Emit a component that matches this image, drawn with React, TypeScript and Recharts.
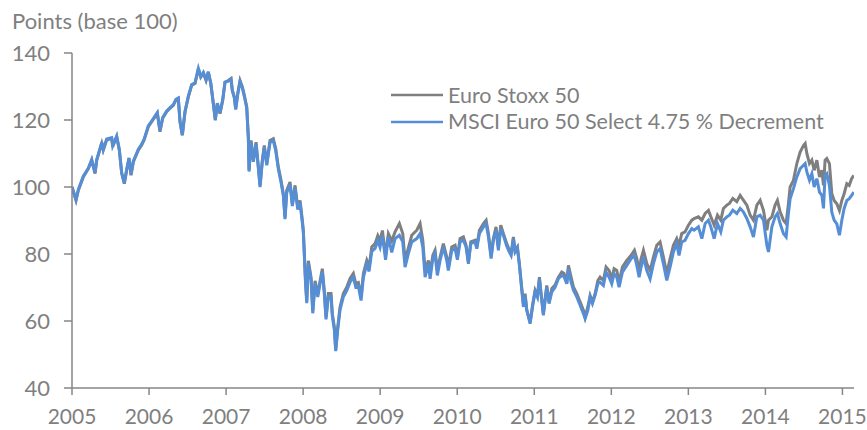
import React from "react";
import { Line, LineChart, XAxis, YAxis } from "recharts";

// decimal years
const dates = [
  2005.0, 2005.052, 2005.082, 2005.147, 2005.212, 2005.256, 2005.299, 2005.321, 2005.386, 2005.406,
  2005.45, 2005.515, 2005.528, 2005.58, 2005.614, 2005.645, 2005.679, 2005.71, 2005.74, 2005.766,
  2005.796, 2005.861, 2005.905, 2005.935, 2005.991, 2006.035, 2006.107, 2006.142, 2006.177, 2006.229,
  2006.272, 2006.315, 2006.35, 2006.38, 2006.402, 2006.432, 2006.467, 2006.51, 2006.554, 2006.597,
  2006.64, 2006.671, 2006.705, 2006.74, 2006.769, 2006.801, 2006.834, 2006.86, 2006.886, 2006.921,
  2006.956, 2006.986, 2007.029, 2007.064, 2007.081, 2007.107, 2007.125, 2007.151, 2007.181, 2007.211,
  2007.237, 2007.268, 2007.289, 2007.298, 2007.324, 2007.354, 2007.389, 2007.419, 2007.441, 2007.47,
  2007.496, 2007.528, 2007.57, 2007.613, 2007.644, 2007.678, 2007.713, 2007.743, 2007.765, 2007.787,
  2007.83, 2007.86, 2007.895, 2007.93, 2007.96, 2007.99, 2008.003, 2008.018, 2008.031, 2008.047,
  2008.068, 2008.103, 2008.125, 2008.155, 2008.19, 2008.22, 2008.249, 2008.275, 2008.297, 2008.327,
  2008.362, 2008.379, 2008.405, 2008.423, 2008.449, 2008.479, 2008.522, 2008.566, 2008.609, 2008.652,
  2008.683, 2008.717, 2008.752, 2008.782, 2008.826, 2008.856, 2008.891, 2008.934, 2008.969, 2008.998,
  2009.029, 2009.07, 2009.106, 2009.15, 2009.193, 2009.249, 2009.293, 2009.323, 2009.366, 2009.41,
  2009.475, 2009.518, 2009.553, 2009.583, 2009.626, 2009.648, 2009.683, 2009.712, 2009.742, 2009.777,
  2009.82, 2009.864, 2009.885, 2009.929, 2009.972, 2010.002, 2010.037, 2010.08, 2010.115, 2010.145,
  2010.176, 2010.232, 2010.254, 2010.288, 2010.34, 2010.375, 2010.405, 2010.44, 2010.469, 2010.504,
  2010.534, 2010.565, 2010.599, 2010.643, 2010.677, 2010.699, 2010.729, 2010.751, 2010.781, 2010.807,
  2010.838, 2010.859, 2010.881, 2010.903, 2010.946, 2010.981, 2011.011, 2011.041, 2011.067, 2011.089,
  2011.118, 2011.162, 2011.192, 2011.228, 2011.27, 2011.313, 2011.357, 2011.387, 2011.422, 2011.443,
  2011.478, 2011.508, 2011.552, 2011.595, 2011.638, 2011.66, 2011.695, 2011.725, 2011.755, 2011.79,
  2011.825, 2011.854, 2011.897, 2011.932, 2011.971, 2012.006, 2012.036, 2012.071, 2012.101, 2012.144,
  2012.201, 2012.257, 2012.3, 2012.331, 2012.361, 2012.387, 2012.417, 2012.461, 2012.504, 2012.547,
  2012.59, 2012.633, 2012.676, 2012.72, 2012.763, 2012.806, 2012.849, 2012.879, 2012.914, 2012.957,
  2013.001, 2013.045, 2013.075, 2013.13, 2013.175, 2013.218, 2013.261, 2013.292, 2013.335, 2013.378,
  2013.421, 2013.455, 2013.499, 2013.533, 2013.577, 2013.629, 2013.672, 2013.714, 2013.759, 2013.802,
  2013.845, 2013.889, 2013.932, 2013.975, 2014.019, 2014.04, 2014.084, 2014.126, 2014.156, 2014.191,
  2014.234, 2014.269, 2014.299, 2014.321, 2014.364, 2014.408, 2014.451, 2014.494, 2014.516, 2014.538,
  2014.572, 2014.603, 2014.633, 2014.668, 2014.702, 2014.733, 2014.754, 2014.775, 2014.797, 2014.831,
  2014.862, 2014.892, 2014.927, 2014.961, 2014.992, 2015.022, 2015.057, 2015.088, 2015.119, 2015.148,
];

const euroStoxx = [
  100, 96.0, 99.0, 103, 105.5, 108, 104, 108, 113, 111,
  114, 114.5, 112, 115, 111, 104, 101, 105, 108.5, 103.5,
  107.5, 111, 112.5, 114, 118, 119.5, 122, 116.5, 120.5, 122.5,
  123.5, 124.4, 126, 126.4, 119.4, 115.4, 122.4, 126.9, 130.4, 130.9,
  135.3, 132.8, 134, 131.8, 134.3, 130.9, 124.9, 119.9, 124.9, 121.9,
  125.9, 131.3, 131.8, 132.4, 128.9, 126.9, 123.4, 127.9, 131.8, 129.9,
  127.4, 123.9, 114.9, 105, 113.9, 108, 113.4, 106, 100.5, 108,
  112.4, 107, 113.9, 114.4, 111.5, 106, 102, 98, 91, 99,
  101.5, 95, 100.5, 94, 96, 90, 87, 79, 72, 66,
  78, 73, 63, 72, 68, 72, 75.6, 69, 61.2, 68.2,
  68.2, 62.2, 58.2, 51.5, 58.2, 64.2, 68.2, 70.1, 72.7, 74.2,
  71.2, 71.5, 67.2, 74.2, 78.1, 76.1, 82.1, 83.1, 85.5, 84,
  87, 79.5, 86.1, 83.9, 86.6, 89.1, 86.1, 78.1, 81.8, 85.6,
  87.1, 89.1, 84.1, 75.1, 78.1, 74.1, 79.6, 81.1, 75.1, 79,
  83.1, 79.1, 76.1, 82.1, 82.6, 79.1, 84.6, 85.1, 82.6, 77.6,
  83.6, 84.1, 82.1, 87.1, 89.1, 90.1, 86.1, 79.6, 84.6, 88.1,
  82.1, 88.6, 86.1, 83.1, 81.1, 80.1, 85.1, 81.1, 82.1, 77.1,
  69.7, 65.2, 68.2, 63.2, 59.7, 65.2, 69.2, 67.6, 73.1, 68.2,
  62.2, 70.6, 65.7, 69.7, 70.7, 73.1, 74.6, 74.2, 71.2, 76.6,
  73.1, 70.2, 68.2, 65.7, 63.2, 61.2, 64.2, 67.6, 65.7, 68.2,
  72.1, 73.1, 72.1, 76.1, 75.1, 72.6, 75.6, 75.1, 71.6, 76.1,
  78.1, 79.6, 81.1, 78.6, 75.1, 78.6, 81.1, 77.1, 75.1, 79.1,
  82.6, 83.6, 79.1, 74.2, 78.6, 82.6, 84.6, 82.6, 86.1, 86.6,
  88.6, 90.1, 90.6, 91.1, 90.1, 92.1, 93.0, 91.1, 88.6, 91.6,
  90.1, 93.6, 94.6, 95.1, 96.6, 95.6, 97.5, 96.1, 94.6, 91.6,
  90.1, 94.6, 96.0, 93.0, 87.1, 90.1, 91.1, 94.6, 96.0, 92.6,
  90.1, 89.1, 95.0, 100, 102, 107, 110.4, 112.4, 113, 110,
  107, 108, 105, 108, 103, 105, 100.5, 108, 108.5, 107,
  98, 96, 95, 93, 96, 98, 101, 100.5, 102.5, 103.5,
];

const msciSelect = [
  100, 96.2, 99.2, 103.2, 105.6, 108.2, 104.3, 108.2, 113.3, 111.2,
  114.3, 114.7, 112.3, 115.2, 111.3, 104.3, 101.2, 105.3, 108.7, 103.8,
  107.7, 111.3, 112.8, 114.2, 118.3, 119.7, 122.2, 116.8, 120.7, 122.7,
  123.7, 124.6, 126.2, 126.6, 119.6, 115.6, 122.6, 127.1, 130.6, 131.1,
  135.4, 133.0, 134.2, 132.0, 134.4, 131.1, 125.1, 120.1, 125.0, 122.1,
  126.0, 131.3, 131.6, 132.2, 128.7, 126.6, 123.1, 127.6, 131.5, 129.6,
  127.0, 123.5, 114.5, 104.6, 113.4, 107.5, 112.9, 105.5, 100.0, 107.5,
  111.9, 106.5, 113.3, 113.8, 110.9, 105.4, 101.4, 97.4, 90.4, 98.3,
  100.8, 94.3, 99.8, 93.3, 95.3, 89.3, 86.3, 78.3, 71.3, 65.3,
  77.2, 72.2, 62.3, 71.2, 67.2, 71.2, 74.7, 68.2, 60.5, 67.3,
  67.3, 61.4, 57.4, 51.0, 57.3, 63.3, 67.2, 69.1, 71.6, 73.1,
  70.1, 70.4, 66.1, 73.0, 76.9, 74.8, 80.8, 81.7, 84.0, 82,
  85.5, 78.3, 85.1, 80.5, 84.6, 85.6, 83.6, 76.1, 80.1, 83.6,
  84.6, 86.1, 82.1, 73.1, 77.1, 72.6, 78.6, 80.1, 73.6, 78,
  82.1, 78.1, 75.1, 81.1, 81.6, 78.3, 83.6, 84.1, 82.1, 77.1,
  83.1, 83.6, 81.6, 86.1, 88.1, 89.1, 85.1, 78.6, 84.1, 87.1,
  81.1, 87.6, 85.6, 82.3, 80.6, 79.6, 84.6, 80.6, 81.8, 76.6,
  69.2, 64.2, 67.6, 63.2, 59.2, 64.7, 68.7, 67.1, 72.6, 67.7,
  61.7, 70.1, 65.2, 68.7, 70.1, 72.6, 73.6, 73.2, 71.1, 75.6,
  71.6, 69.2, 67.2, 64.7, 62.2, 60.7, 63.2, 67.1, 65.2, 67.7,
  71.1, 71.6, 70.6, 74.6, 73.1, 71.1, 74.1, 73.1, 70.1, 74.6,
  76.6, 78.6, 79.6, 76.6, 73.1, 76.1, 79.1, 75.1, 72.6, 77.1,
  80.6, 81.6, 77.1, 72.1, 76.1, 80.6, 83.1, 79.6, 83.6, 84.1,
  86.1, 87.6, 87.1, 88.1, 84.6, 89.1, 90.1, 88.1, 84.6, 89.1,
  86.6, 90.1, 91.1, 91.6, 93.1, 92.1, 93.6, 92.6, 90.6, 88.1,
  85.1, 91.1, 91.6, 90.1, 82.6, 80.6, 88.1, 91.1, 92.1, 89.1,
  86.1, 85.1, 92.1, 96.5, 99.5, 103, 105.5, 106.5, 107, 104.5,
  102, 104, 100, 102.5, 98.5, 97.5, 93.6, 103.5, 104, 100.5,
  92.5, 90.1, 89, 85.6, 90.1, 93.6, 96, 96.5, 97.5, 98.5,
];

const yearTicks = [2005, 2006, 2007, 2008, 2009, 2010, 2011, 2012, 2013, 2014, 2015];
const valueTicks = [40, 60, 80, 100, 120, 140];

const seriesNames = ["Euro Stoxx 50", "MSCI Euro 50 Select 4.75 % Decrement"];
const seriesColors = ["#7f7f7f", "#558ed5"];

const data = dates.map((t, i) => ({
  t,
  stoxx: euroStoxx[i],
  msci: msciSelect[i],
}));

const textColor = "#7f7f7f";
const axisColor = "#868686";
const font = "Lato, 'Noto Sans', sans-serif";

// legend is drawn as an overlay so it doesn't eat plot space
function LegendBox() {
  return (
    <div
      style={{
        position: "absolute",
        left: 391,
        top: 81.7,
        fontFamily: font,
        fontSize: 21.5,
        color: textColor,
      }}
    >
      {seriesNames.map((name, i) => (
        <div
          key={name}
          style={{ display: "flex", alignItems: "center", height: 26.7, lineHeight: "26.7px", whiteSpace: "nowrap" }}
        >
          <svg width={52} height={4} style={{ marginRight: 5 }}>
            <line x1={0} y1={2} x2={52} y2={2} stroke={seriesColors[i]} strokeWidth={2.5} />
          </svg>
          <span>{name}</span>
        </div>
      ))}
    </div>
  );
}

export default function App() {
  return (
    <div style={{ position: "absolute", left: 0, top: 0, width: 867, height: 430, background: "#fff" }}>
      <LineChart width={867} height={430} data={data} margin={{ top: 53, right: 13, bottom: 12, left: 10 }}>
        <XAxis
          dataKey="t"
          type="number"
          domain={[2005, 2015.15]}
          ticks={yearTicks}
          interval={0}
          allowDataOverflow
          height={30}
          tickSize={7}
          tickMargin={14}
          stroke={axisColor}
          strokeWidth={1.5}
          tick={{ fill: textColor, fontSize: 21, fontFamily: font }}
          tickFormatter={(v) => String(v)}
        />
        <YAxis
          type="number"
          domain={[40, 140]}
          ticks={valueTicks}
          interval={0}
          width={62}
          tickSize={8}
          tickMargin={14}
          stroke={axisColor}
          strokeWidth={1.5}
          tick={{ fill: textColor, fontSize: 22, fontFamily: font }}
        />
        <Line
          dataKey="stoxx"
          stroke={seriesColors[0]}
          strokeWidth={3}
          dot={false}
          isAnimationActive={false}
        />
        <Line
          dataKey="msci"
          stroke={seriesColors[1]}
          strokeWidth={3}
          dot={false}
          isAnimationActive={false}
        />
      </LineChart>
      <div
        style={{
          position: "absolute",
          left: 12,
          top: 9.5,
          fontFamily: font,
          fontSize: 22,
          lineHeight: "22px",
          color: textColor,
          whiteSpace: "nowrap",
        }}
      >
        Points (base 100)
      </div>
      <LegendBox />
    </div>
  );
}
